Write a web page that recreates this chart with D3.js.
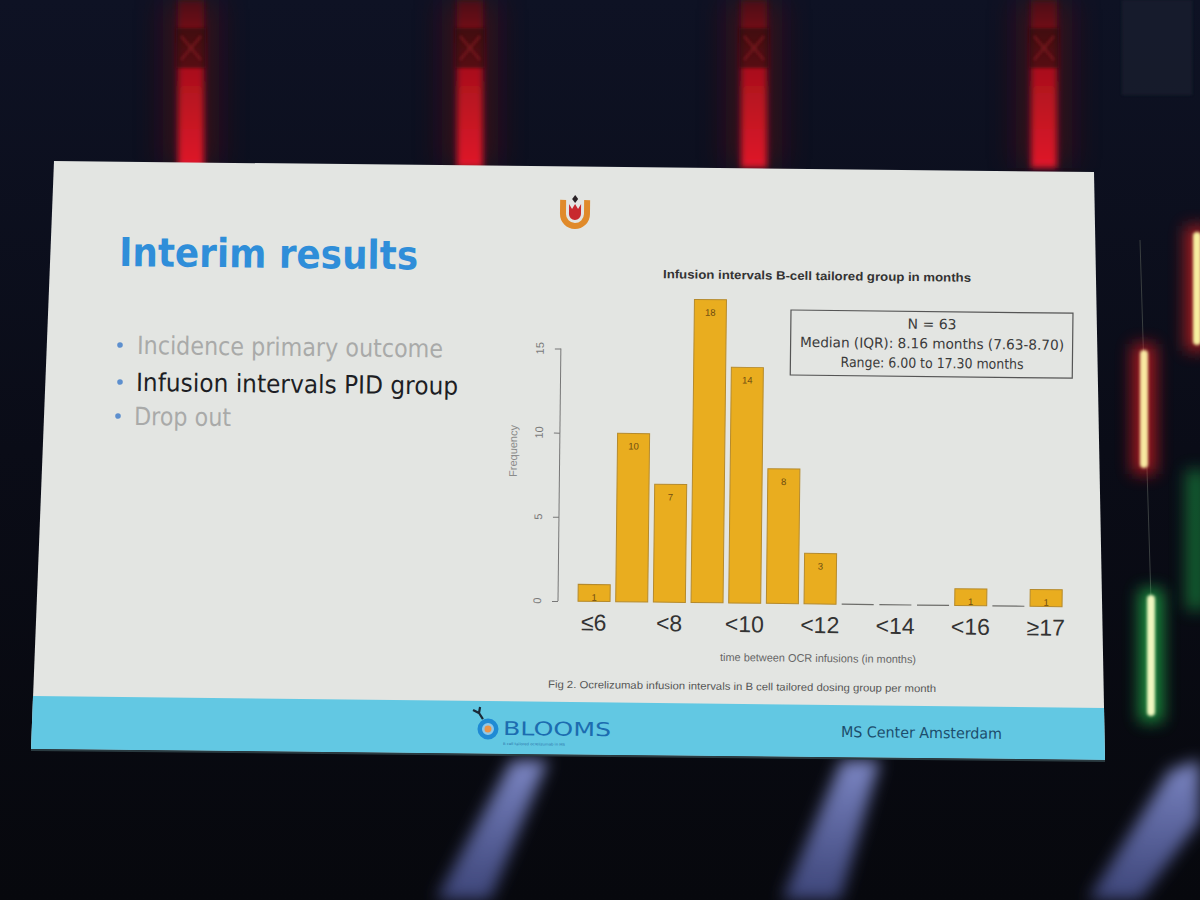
<!DOCTYPE html>
<html>
<head>
<meta charset="utf-8">
<script src="https://cdn.jsdelivr.net/npm/d3@7"></script>
<style>
  html,body{margin:0;padding:0;background:#0b0d18;}
  svg{display:block;}
</style>
</head>
<body>
<svg id="chart" width="1200" height="900"></svg>
<script>
// ---------------- data ----------------
const categories = ["≤6","<7","<8","<9","<10","<11","<12","<13","<14","<15","<16","<17","≥17"];
const frequencies = [1, 10, 7, 18, 14, 8, 3, 0, 0, 0, 1, 0, 1];
const xTickLabels = ["≤6","<8","<10","<12","<14","<16","≥17"];
const yTicks = [0, 5, 10, 15];
const chartTitle = "Infusion intervals B-cell tailored group in months";
const legendLines = ["N = 63", "Median (IQR): 8.16 months (7.63-8.70)", "Range: 6.00 to 17.30 months"];
const xAxisTitle = "time between OCR infusions (in months)";
const yAxisTitle = "Frequency";
const caption = "Fig 2. Ocrelizumab infusion intervals in B cell tailored dosing group per month";
const slideTitle = "Interim results";
const bullets = ["Incidence primary outcome", "Infusion intervals PID group", "Drop out"];
const bulletActive = [false, true, false];

// ---------------- setup ----------------
const svg = d3.select("#chart");
const defs = svg.append("defs");

const ANG = 0.65, CX = 560, CY = 601;
const rad = ANG * Math.PI / 180, cs = Math.cos(rad), sn = Math.sin(rad);
// screen point -> unrotated content coordinates
function inv(sx, sy) {
  const dx = sx - CX, dy = sy - CY;
  return [CX + dx * cs + dy * sn, CY - dx * sn + dy * cs];
}

const blur = (id, s) => defs.append("filter").attr("id", id)
  .attr("x", "-200%").attr("y", "-50%").attr("width", "500%").attr("height", "200%")
  .append("feGaussianBlur").attr("stdDeviation", s);
blur("b4", 4); blur("b8", 8); blur("b14", 14); blur("b2", 1.6); blur("b3", 3);

const bgGrad = defs.append("linearGradient").attr("id", "bg").attr("x1", 0).attr("y1", 0).attr("x2", 0).attr("y2", 1);
bgGrad.append("stop").attr("offset", 0).attr("stop-color", "#0e1224");
bgGrad.append("stop").attr("offset", 0.5).attr("stop-color", "#0a0c17");
bgGrad.append("stop").attr("offset", 1).attr("stop-color", "#07080d");

const redGrad = defs.append("linearGradient").attr("id", "red").attr("x1", 0).attr("y1", 0).attr("x2", 0).attr("y2", 1);
redGrad.append("stop").attr("offset", 0).attr("stop-color", "#4a0c14");
redGrad.append("stop").attr("offset", 0.4).attr("stop-color", "#a8101c");
redGrad.append("stop").attr("offset", 1).attr("stop-color", "#e0192a");

const beamGrad = defs.append("linearGradient").attr("id", "beam").attr("x1", 0).attr("y1", 0).attr("x2", 0).attr("y2", 1);
beamGrad.append("stop").attr("offset", 0).attr("stop-color", "#8a95d8").attr("stop-opacity", 0.9);
beamGrad.append("stop").attr("offset", 1).attr("stop-color", "#5560a8").attr("stop-opacity", 0.7);

// ---------------- background ----------------
svg.append("rect").attr("width", 1200).attr("height", 900).attr("fill", "url(#bg)");

const cols = [191, 470, 754, 1044];
const gCols = svg.append("g");
cols.forEach(x => {
  gCols.append("rect").attr("x", x - 28).attr("y", 0).attr("width", 56).attr("height", 168)
    .attr("fill", "#5a0a14").attr("opacity", 0.5).attr("filter", "url(#b14)");
  gCols.append("rect").attr("x", x - 13).attr("y", 0).attr("width", 26).attr("height", 168)
    .attr("fill", "url(#red)").attr("filter", "url(#b3)");
  gCols.append("rect").attr("x", x - 15).attr("y", 28).attr("width", 30).attr("height", 40)
    .attr("fill", "#220810").attr("opacity", 0.6).attr("filter", "url(#b2)");
  gCols.append("path").attr("d", `M${x-10},36 L${x+10},60 M${x+10},36 L${x-10},60`)
    .attr("stroke", "#8a1a22").attr("stroke-width", 2).attr("fill", "none").attr("opacity", 0.7)
    .attr("filter", "url(#b2)");
});
svg.append("rect").attr("x", 1122).attr("y", 0).attr("width", 70).attr("height", 95)
  .attr("fill", "#1c2230").attr("opacity", 0.6).attr("filter", "url(#b2)");

const beams = [
  [[512,760],[548,760],[490,900],[436,900]],
  [[842,760],[880,760],[840,900],[782,900]],
  [[1170,770],[1200,760],[1200,820],[1140,900],[1088,900]]
];
beams.forEach(p => {
  svg.append("polygon").attr("points", p.map(d => d.join(",")).join(" "))
    .attr("fill", "url(#beam)").attr("filter", "url(#b8)");
});

function lightBar(x, y1, y2, glow, core) {
  svg.append("rect").attr("x", x - 12).attr("y", y1 - 6).attr("width", 24).attr("height", y2 - y1 + 12)
    .attr("fill", glow).attr("opacity", 0.7).attr("filter", "url(#b8)");
  svg.append("rect").attr("x", x - 4).attr("y", y1).attr("width", 8).attr("height", y2 - y1).attr("rx", 4)
    .attr("fill", core).attr("filter", "url(#b2)");
}
svg.append("line").attr("x1", 1140).attr("y1", 240).attr("x2", 1151).attr("y2", 600)
  .attr("stroke", "#3a3f40").attr("stroke-width", 1);
lightBar(1144, 350, 468, "#e01a20", "#f8e8a0");
lightBar(1151, 595, 716, "#20c050", "#f0f8c0");
lightBar(1197, 232, 345, "#e02020", "#f8f0a0");
svg.append("rect").attr("x", 1186).attr("y", 470).attr("width", 20).attr("height", 140)
  .attr("fill", "#1f9a45").attr("opacity", 0.6).attr("filter", "url(#b8)");

// ---------------- slide ----------------
const slideCorners = [[54,161],[1094,172],[1105,760],[31,749]];
svg.append("polygon").attr("points", slideCorners.map(d => d.join(",")).join(" "))
  .attr("fill", "#e3e5e2");
const bandCorners = [[33,696],[1104,708],[1105,760],[31,749]];
svg.append("polygon").attr("points", bandCorners.map(d => d.join(",")).join(" "))
  .attr("fill", "#62c8e3");
svg.append("line").attr("x1", 31).attr("y1", 750).attr("x2", 1105).attr("y2", 761)
  .attr("stroke", "#2a3a40").attr("stroke-width", 2);

const g = svg.append("g").attr("transform", `rotate(${ANG},${CX},${CY})`);

function txt(sx, sy, s, opts) {
  const [ux, uy] = inv(sx, sy);
  const t = g.append("text").attr("x", ux).attr("y", uy).text(s)
    .attr("font-family", opts.family || "DejaVu Sans")
    .attr("font-size", opts.size)
    .attr("fill", opts.fill || "#333")
    .attr("text-anchor", opts.anchor || "start");
  if (opts.weight) t.attr("font-weight", opts.weight);
  if (opts.len) t.attr("textLength", opts.len).attr("lengthAdjust", "spacingAndGlyphs");
  return t;
}

txt(119, 266, slideTitle, {size: 40, weight: "bold", fill: "#2f8ed9", len: 299});

const bulletPos = [[120, 137, 354, 306], [120, 136, 391, 322], [118, 134, 425, 97]];
bullets.forEach((b, i) => {
  const [dx, tx, by, w] = bulletPos[i];
  const [ux, uy] = inv(dx, by - 9);
  g.append("circle").attr("cx", ux).attr("cy", uy).attr("r", 2.8).attr("fill", "#5d8fce");
  txt(tx, by, b, {size: 25, fill: bulletActive[i] ? "#1d1e24" : "#a9aaa9", len: w});
});

// tulip logo
(function () {
  const [lx, ly] = inv(575, 212);
  const lg = g.append("g").attr("transform", `translate(${lx},${ly})`);
  lg.append("path").attr("d", "M-12,-12 L-12,2 A12,12 0 0 0 12,2 L12,-12")
    .attr("fill", "none").attr("stroke", "#e08a2a").attr("stroke-width", 6);
  lg.append("path").attr("d", "M-6,-8 L-6,2 A6,6 0 0 0 6,2 L6,-8 L3,-3 L0,-8 L-3,-3 Z")
    .attr("fill", "#c8282e");
  lg.append("path").attr("d", "M0,-17 L3,-13 L0,-9 L-3,-13 Z").attr("fill", "#2a2226");
})();

// ---------------- chart ----------------
const x = d3.scaleBand().domain(categories).range([575.2, 1064.9])
  .paddingInner(0.15).paddingOuter(0.075);
const y = d3.scaleLinear().domain([0, 15]).range([601, 348.5]);
const axisX = 558;

txt(817, 280, chartTitle, {size: 12, weight: "bold", family: "Liberation Sans", fill: "#333", anchor: "middle", len: 308});

const data = categories.map((c, i) => ({cat: c, v: frequencies[i]}));
g.selectAll("rect.bar").data(data.filter(d => d.v > 0)).join("rect")
  .attr("class", "bar")
  .attr("x", d => x(d.cat)).attr("width", x.bandwidth())
  .attr("y", d => y(d.v)).attr("height", d => y(0) - y(d.v))
  .attr("fill", "#e9ad1f").attr("stroke", "#b58a2c").attr("stroke-width", 1);
g.selectAll("line.zero").data(data.filter(d => d.v === 0)).join("line")
  .attr("class", "zero")
  .attr("x1", d => x(d.cat)).attr("x2", d => x(d.cat) + x.bandwidth())
  .attr("y1", y(0)).attr("y2", y(0))
  .attr("stroke", "#6d6d6a").attr("stroke-width", 1.2);
g.selectAll("text.blab").data(data.filter(d => d.v > 0)).join("text")
  .attr("class", "blab")
  .attr("x", d => x(d.cat) + x.bandwidth() / 2)
  .attr("y", d => y(d.v - 0.75) + 3.5)
  .attr("text-anchor", "middle").attr("font-family", "Liberation Sans").attr("font-size", 9.5)
  .attr("fill", "#6e4c10").text(d => d.v);

const yAxis = d3.axisLeft(y).tickValues(yTicks).tickSize(6).tickFormat("");
const ya = g.append("g").attr("transform", `translate(${axisX},0)`).call(yAxis);
ya.select(".domain").attr("stroke", "#777").attr("d", `M0,${y(0)}V${y(15)}`);
ya.selectAll(".tick line").attr("stroke", "#777");
g.selectAll("text.ytl").data(yTicks).join("text").attr("class", "ytl")
  .attr("transform", d => `translate(${axisX - 17},${y(d)}) rotate(-90)`)
  .attr("text-anchor", "middle").attr("font-family", "Liberation Sans").attr("font-size", 11)
  .attr("fill", "#7a7a7a").text(d => d);
(function () {
  const [ux, uy] = inv(517, 451);
  g.append("text").attr("transform", `translate(${ux},${uy}) rotate(-90)`)
    .attr("text-anchor", "middle").attr("font-family", "Liberation Sans").attr("font-size", 11)
    .attr("fill", "#8a8a8a").text(yAxisTitle);
})();

const tickCats = categories.filter((c, i) => i % 2 === 0);
g.selectAll("text.xtl").data(xTickLabels).join("text").attr("class", "xtl")
  .attr("x", (d, i) => x(tickCats[i]) + x.bandwidth() / 2)
  .attr("y", y(0) + 29)
  .attr("text-anchor", "middle").attr("font-family", "Liberation Sans").attr("font-size", 23)
  .attr("fill", "#333").text(d => d);

txt(818, 662, xAxisTitle, {size: 11, family: "Liberation Sans", fill: "#666", anchor: "middle", len: 196});
txt(742, 690, caption, {size: 10.5, family: "Liberation Sans", fill: "#555", anchor: "middle", len: 388});

(function () {
  const [bx, by] = inv(791, 310);
  g.append("rect").attr("x", bx).attr("y", by).attr("width", 282).attr("height", 65)
    .attr("fill", "none").attr("stroke", "#555").attr("stroke-width", 1.2);
  const ys = [329, 347, 365];
  const ws = [null, 264, 183];
  legendLines.forEach((l, i) => {
    txt(932, ys[i] + (i === 0 ? 0 : 1.5 * i), l, {size: 14, fill: "#3a3a3a", anchor: "middle", len: ws[i]});
  });
})();

// ---------------- footer ----------------
(function () {
  const [cx, cy] = inv(488, 729);
  g.append("circle").attr("cx", cx).attr("cy", cy).attr("r", 10.5).attr("fill", "#1f8ad4");
  g.append("circle").attr("cx", cx).attr("cy", cy).attr("r", 6).attr("fill", "#8cc7ea");
  g.append("circle").attr("cx", cx).attr("cy", cy).attr("r", 3.5).attr("fill", "#e8934a");
  const [px, py] = inv(479, 713);
  g.append("path").attr("d", `M${px - 6},${py - 3} L${px},${py} L${px + 1},${py - 6} M${px},${py} L${px + 4},${py + 6}`)
    .attr("stroke", "#1a2a38").attr("stroke-width", 2.2).attr("fill", "none");
})();
txt(503, 735, "BLOOMS", {size: 19, family: "DejaVu Sans", fill: "#1c6cb0", len: 108});
txt(503, 745, "B cell tailored ocrelizumab in MS", {size: 3.5, family: "DejaVu Sans", fill: "#2a70a8", len: 62});
txt(841, 737, "MS Center Amsterdam", {size: 15, family: "DejaVu Sans", fill: "#1c4d6c", len: 161});
</script>
</body>
</html>
